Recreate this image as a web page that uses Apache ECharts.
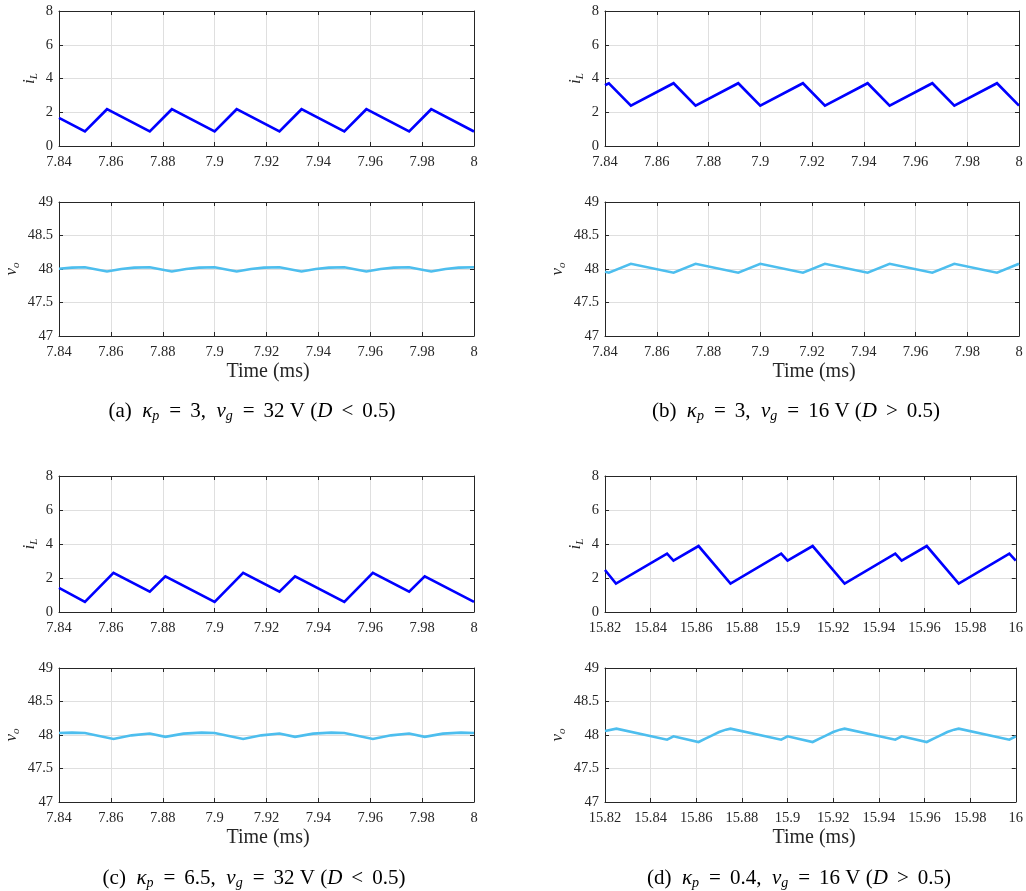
<!DOCTYPE html>
<html><head><meta charset="utf-8">
<script src="https://cdn.jsdelivr.net/npm/echarts@6/dist/echarts.min.js"></script>
<style>html,body{margin:0;padding:0;background:#fff}#c{width:1026px;height:891px}</style>
</head><body><div id="c"></div>
<script>
// ---------- DATA ----------
// Panel (a): kp=3, vg=32 V
const aT_iL = [7.84, 7.85, 7.8585, 7.875, 7.8835, 7.9, 7.9085, 7.925, 7.9335, 7.95, 7.9585, 7.975, 7.9835, 8.0];
const aIL   = [1.67, 0.86, 2.18, 0.86, 2.18, 0.86, 2.18, 0.86, 2.18, 0.86, 2.18, 0.86, 2.18, 0.86];
const aT_vo = [7.84, 7.845, 7.85, 7.8585, 7.864, 7.869, 7.875, 7.8835, 7.889, 7.894, 7.9, 7.9085, 7.914, 7.919, 7.925, 7.9335, 7.939, 7.944, 7.95, 7.9585, 7.964, 7.969, 7.975, 7.9835, 7.989, 7.994, 8.0];
const aVO   = [48.003, 48.02, 48.025, 47.963, 48.0, 48.02, 48.025, 47.963, 48.0, 48.02, 48.025, 47.963, 48.0, 48.02, 48.025, 47.963, 48.0, 48.02, 48.025, 47.963, 48.0, 48.02, 48.025, 47.963, 48.0, 48.02, 48.025];
// Panel (b): kp=3, vg=16 V
const bT    = [7.84, 7.8415, 7.85, 7.8665, 7.875, 7.8915, 7.9, 7.9165, 7.925, 7.9415, 7.95, 7.9665, 7.975, 7.9915, 8.0];
const bIL   = [3.6, 3.72, 2.39, 3.72, 2.39, 3.72, 2.39, 3.72, 2.39, 3.72, 2.39, 3.72, 2.39, 3.72, 2.39];
const bVO   = [47.958, 47.945, 48.078, 47.945, 48.078, 47.945, 48.078, 47.945, 48.078, 47.945, 48.078, 47.945, 48.078, 47.945, 48.078];
// Panel (c): kp=6.5, vg=32 V
const cT_iL = [7.84, 7.85, 7.861, 7.875, 7.881, 7.9, 7.911, 7.925, 7.931, 7.95, 7.961, 7.975, 7.981, 8.0];
const cIL   = [1.42, 0.6, 2.3, 1.2, 2.1, 0.6, 2.3, 1.2, 2.1, 0.6, 2.3, 1.2, 2.1, 0.6];
const cT_vo = [7.84, 7.845, 7.85, 7.861, 7.868, 7.875, 7.881, 7.888, 7.895, 7.9, 7.911, 7.918, 7.925, 7.931, 7.938, 7.945, 7.95, 7.961, 7.968, 7.975, 7.981, 7.988, 7.995, 8.0];
const cVO   = [48.03, 48.035, 48.03, 47.94, 47.995, 48.022, 47.972, 48.02, 48.035, 48.03, 47.94, 47.995, 48.022, 47.972, 48.02, 48.035, 48.03, 47.94, 47.995, 48.022, 47.972, 48.02, 48.035, 48.03];
// Panel (d): kp=0.4, vg=16 V
const dT_iL = [15.82, 15.8248, 15.8472, 15.85, 15.861, 15.875, 15.8972, 15.9, 15.911, 15.925, 15.9472, 15.95, 15.961, 15.975, 15.9972, 16.0];
const dIL   = [2.47, 1.67, 3.43, 3.02, 3.88, 1.67, 3.43, 3.02, 3.88, 1.67, 3.43, 3.02, 3.88, 1.67, 3.43, 3.02];
const dT_vo = [15.82, 15.825, 15.8472, 15.85, 15.861, 15.864, 15.867, 15.87, 15.873, 15.875, 15.8972, 15.9, 15.911, 15.914, 15.917, 15.92, 15.923, 15.925, 15.9472, 15.95, 15.961, 15.964, 15.967, 15.97, 15.973, 15.975, 15.9972, 16.0];
const dVO   = [48.06, 48.095, 47.93, 47.98, 47.895, 47.945, 47.995, 48.045, 48.08, 48.095, 47.93, 47.98, 47.895, 47.945, 47.995, 48.045, 48.08, 48.095, 47.93, 47.98, 47.895, 47.945, 47.995, 48.045, 48.08, 48.095, 47.93, 47.98];

const iLRange = [0, 8, 2];
const voRange = [47, 49, 0.5];
const xRangeA = [7.84, 8.0, 0.02];
const xRangeD = [15.82, 16.0, 0.02];

// caption tokens: [label, kp, vg, rel]
const captions = [
  ['(a)', '3', '32', '<'],
  ['(b)', '3', '16', '>'],
  ['(c)', '6.5', '32', '<'],
  ['(d)', '0.4', '16', '>']
];

// ---------- CHART ----------
const FONT = '"Liberation Serif","Times New Roman",serif';
const AX = '#262626', GRID = '#dfdfdf';
const C_IL = '#0000ff', C_VO = '#4dbeee';
const zip = (t, v) => t.map((x, i) => [x, v[i]]);

const panels = [
  {g:{left:59, top:11, width:415, height:135}, x:xRangeA, y:iLRange, kind:'iL', data:zip(aT_iL, aIL)},
  {g:{left:59, top:202, width:415, height:134}, x:xRangeA, y:voRange, kind:'vo', data:zip(aT_vo, aVO)},
  {g:{left:605, top:11, width:414, height:135}, x:xRangeA, y:iLRange, kind:'iL', data:zip(bT, bIL)},
  {g:{left:605, top:202, width:414, height:134}, x:xRangeA, y:voRange, kind:'vo', data:zip(bT, bVO)},
  {g:{left:59, top:476, width:415, height:136}, x:xRangeA, y:iLRange, kind:'iL', data:zip(cT_iL, cIL)},
  {g:{left:59, top:668, width:415, height:134}, x:xRangeA, y:voRange, kind:'vo', data:zip(cT_vo, cVO)},
  {g:{left:605, top:476, width:414, height:136}, x:xRangeD, y:iLRange, kind:'iL', data:zip(dT_iL, dIL)},
  {g:{left:605, top:668, width:414, height:134}, x:xRangeD, y:voRange, kind:'vo', data:zip(dT_vo, dVO)}
];

const grid = [], xAxis = [], yAxis = [], series = [];
const fmt = v => String(+(+v).toFixed(3));
panels.forEach((p, i) => {
  grid.push(Object.assign({containLabel:false, show:false}, p.g));
  const common = {type:'value', gridIndex:i, min:p.x[0], max:p.x[1], interval:p.x[2]};
  xAxis.push(Object.assign({}, common, {
    position:'bottom',
    axisLine:{show:true, onZero:false, lineStyle:{color:AX, width:1}},
    axisTick:{show:true, inside:true, length:4, lineStyle:{color:AX}},
    axisLabel:{show:true, color:AX, fontFamily:FONT, fontSize:14.5, margin:9, formatter:fmt, hideOverlap:false, showMinLabel:true, showMaxLabel:true},
    splitLine:{show:true, lineStyle:{color:GRID, width:1}}
  }));
  xAxis.push(Object.assign({}, common, {
    position:'top',
    axisLine:{show:true, onZero:false, lineStyle:{color:AX, width:1}},
    axisTick:{show:true, inside:true, length:4, lineStyle:{color:AX}},
    axisLabel:{show:false}, splitLine:{show:false}
  }));
  const ycommon = {type:'value', gridIndex:i, min:p.y[0], max:p.y[1], interval:p.y[2]};
  const isIL = p.kind === 'iL';
  yAxis.push(Object.assign({}, ycommon, {
    position:'left',
    name: isIL ? '{m|i}{s|L}' : '{m|v}{s|o}',
    nameLocation:'middle', nameRotate:90, nameGap: isIL ? 19 : 37,
    nameTextStyle:{color:AX, rich:{
      m:{fontFamily:FONT, fontStyle:'italic', fontSize:17, color:AX},
      s:{fontFamily:FONT, fontStyle:'italic', fontSize:11, color:AX, padding:[9,0,0,0]}
    }},
    axisLine:{show:true, onZero:false, lineStyle:{color:AX, width:1}},
    axisTick:{show:true, inside:true, length:4, lineStyle:{color:AX}},
    axisLabel:{show:true, color:AX, fontFamily:FONT, fontSize:14.5, margin:6, formatter:fmt},
    splitLine:{show:true, lineStyle:{color:GRID, width:1}}
  }));
  yAxis.push(Object.assign({}, ycommon, {
    position:'right',
    axisLine:{show:true, onZero:false, lineStyle:{color:AX, width:1}},
    axisTick:{show:true, inside:true, length:4, lineStyle:{color:AX}},
    axisLabel:{show:false}, splitLine:{show:false}
  }));
  series.push({
    type:'line', xAxisIndex:2*i, yAxisIndex:2*i, data:p.data,
    showSymbol:false, symbol:'none', silent:true, animation:false,
    lineStyle:{color: isIL ? C_IL : C_VO, width:2.6, join:'miter'},
    clip:true
  });
});

const graphic = [];
[[268, 372], [814, 372], [268, 838], [814, 838]].forEach(([x, y]) => {
  graphic.push({type:'text', x:x, y:y, style:{text:'Time (ms)', font:'20px ' + FONT, fill:AX, align:'center', verticalAlign:'middle'}});
});
const capPos = [[252, 411], [796, 411], [254, 878], [799, 878]];
captions.forEach((c, i) => {
  const [x, y] = capPos[i];
  const txt = '{n|' + c[0] + '  }{m|κ}{s|p}{e|=}{n|' + c[1] + ',  }{m|v}{s|g}{e|=}{n|' + c[2] + ' V (}{m|D}{e|' + c[3] + '}{n|0.5)}';
  graphic.push({type:'text', x:x, y:y, style:{
    text: txt, align:'center', verticalAlign:'middle', fill:'#000',
    rich:{
      n:{fontFamily:FONT, fontSize:21, fill:'#000'},
      m:{fontFamily:FONT, fontStyle:'italic', fontSize:21, fill:'#000'},
      e:{fontFamily:FONT, fontSize:21, fill:'#000', padding:[0,9,0,9]},
      s:{fontFamily:FONT, fontStyle:'italic', fontSize:14, fill:'#000', padding:[11,1,0,0]}
    }
  }});
});

const chart = echarts.init(document.getElementById('c'), null, {renderer:'canvas'});
chart.setOption({animation:false, backgroundColor:'#fff', grid, xAxis, yAxis, series, graphic});
</script>
</body></html>
